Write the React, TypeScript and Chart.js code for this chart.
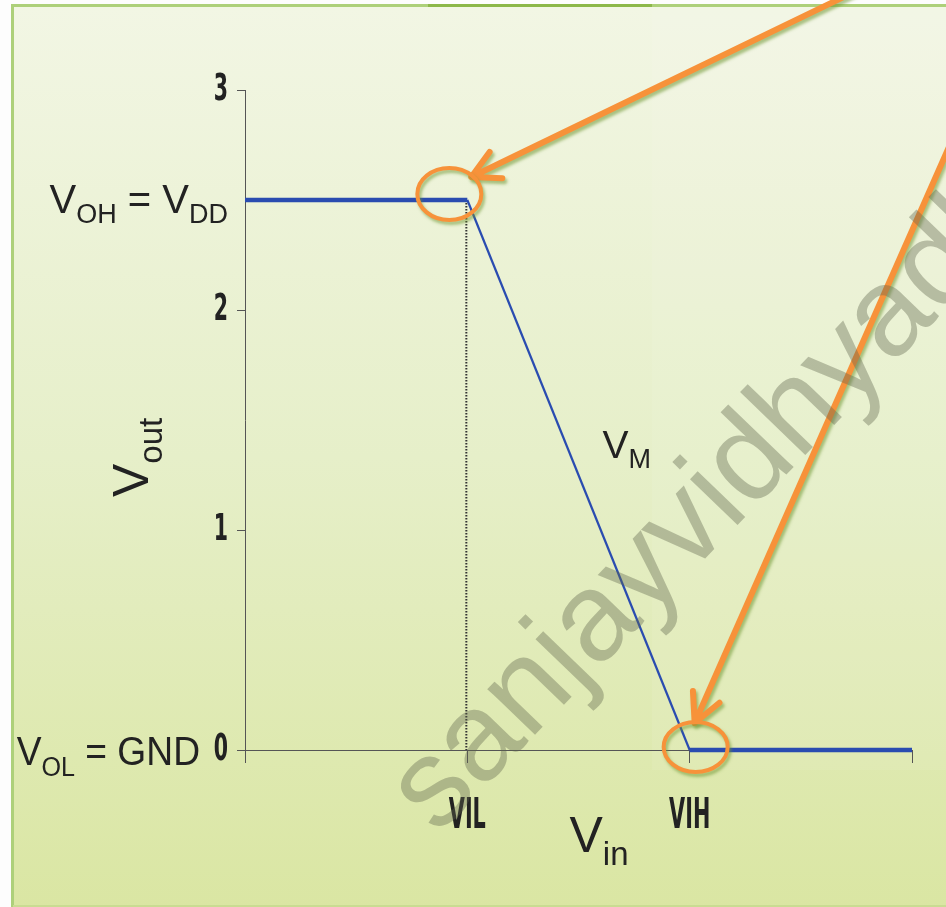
import React, { useEffect, useRef } from 'react';
import { Chart, registerables } from 'chart.js';
import { renderText } from 'chart.js/helpers';

Chart.register(...registerables);

// ---- data ----
const vin = [0, 1, 2, 3];
const vout = [2.5, 2.5, 0, 0];
const xTickValues = [0, 1, 2, 3];
const xTickLabels = ['', 'VIL', 'VIH', ''];
const yTickValues = [0, 1, 2, 3];
const yTickLabels = ['0', '1', '2', '3'];
const VIL = 1;
const VIH = 2;
const VOH = 2.5;
const VOL = 0;
const watermarkText = 'sanjayvidhyadhar';

const W = 946;
const H = 907;
const SANS = '"Liberation Sans", Arial, sans-serif';
const NARROW = '"DejaVu Sans Condensed", "DejaVu Sans", sans-serif';
const ORANGE = '#f7923a';

type Part = { t: string; size: number; dy: number };

function drawParts(
  ctx: CanvasRenderingContext2D,
  parts: Part[],
  x: number,
  y: number,
  align: 'left' | 'right',
  sx = 1,
  rot = 0
) {
  ctx.save();
  let w = 0;
  for (const p of parts) {
    ctx.font = `${p.size}px ${SANS}`;
    w += ctx.measureText(p.t).width;
  }
  ctx.translate(x, y);
  if (rot) ctx.rotate(rot);
  ctx.scale(sx, 1);
  let cx = align === 'right' ? -w : 0;
  ctx.fillStyle = '#222';
  ctx.textBaseline = 'alphabetic';
  ctx.textAlign = 'left';
  for (const p of parts) {
    ctx.font = `${p.size}px ${SANS}`;
    ctx.fillText(p.t, cx, p.dy);
    cx += ctx.measureText(p.t).width;
  }
  ctx.restore();
}

function arrow(ctx: CanvasRenderingContext2D, sx: number, sy: number, tx: number, ty: number, wing: number, ang: number) {
  const a = Math.atan2(sy - ty, sx - tx);
  ctx.beginPath();
  ctx.moveTo(sx, sy);
  ctx.lineTo(tx, ty);
  ctx.moveTo(tx + wing * Math.cos(a - ang), ty + wing * Math.sin(a - ang));
  ctx.lineTo(tx, ty);
  ctx.lineTo(tx + wing * Math.cos(a + ang), ty + wing * Math.sin(a + ang));
  ctx.stroke();
}

// draw the library's own tick label items, horizontally condensed
function condenseLabels(scale: any, sx: number) {
  if (scale.__condensed) return;
  scale.__condensed = true;
  scale.drawLabels = function (chartArea: any) {
    const ctx: CanvasRenderingContext2D = this.ctx;
    const items = this.getLabelItems(chartArea);
    for (const item of items) {
      const [tx, ty] = item.options.translation;
      ctx.save();
      ctx.translate(tx, ty);
      ctx.scale(sx, 1);
      ctx.translate(-tx, -ty);
      renderText(ctx, item.label, 0, item.textOffset, item.font, item.options);
      ctx.restore();
    }
  };
}

const slidePlugin = {
  id: 'slide',
  beforeDraw(chart: any) {
    condenseLabels(chart.scales.x, 0.55);
    condenseLabels(chart.scales.y, 0.6);
    const ctx: CanvasRenderingContext2D = chart.ctx;
    ctx.save();
    ctx.fillStyle = '#fdfdfd';
    ctx.fillRect(0, 0, W, H);
    const g = ctx.createLinearGradient(0, 6, 0, H);
    g.addColorStop(0, '#f2f6e4');
    g.addColorStop(0.5, '#e6efc9');
    g.addColorStop(1, '#dae6a3');
    ctx.fillStyle = g;
    ctx.fillRect(13, 6, W - 13, H - 6);
    // faint lighter panel
    ctx.fillStyle = 'rgba(255,255,255,0.07)';
    ctx.fillRect(652, 7, W - 652, 763);
    // borders
    ctx.fillStyle = '#add07a';
    ctx.fillRect(11, 4, 3, H - 4);
    ctx.fillRect(11, 4, W - 11, 3);
    ctx.fillStyle = '#8db84a';
    ctx.fillRect(428, 4, 224, 3);
    ctx.fillStyle = '#c9dc92';
    ctx.fillRect(13, H - 2, W - 13, 2);
    ctx.restore();
  },
  beforeDatasetsDraw(chart: any) {
    const ctx: CanvasRenderingContext2D = chart.ctx;
    const xs = chart.scales.x;
    const ys = chart.scales.y;
    ctx.save();
    ctx.strokeStyle = '#333';
    ctx.lineWidth = 2;
    ctx.setLineDash([1.5, 1.5]);
    ctx.beginPath();
    ctx.moveTo(xs.getPixelForValue(VIL) - 1, ys.getPixelForValue(VOH));
    ctx.lineTo(xs.getPixelForValue(VIL) - 1, ys.getPixelForValue(VOL));
    ctx.stroke();
    ctx.restore();
  },
  afterDraw(chart: any) {
    const ctx: CanvasRenderingContext2D = chart.ctx;
    const xs = chart.scales.x;
    const ys = chart.scales.y;
    const area = chart.chartArea;
    const pxL = xs.getPixelForValue(VIL);
    const pyH = ys.getPixelForValue(VOH);
    const pxH = xs.getPixelForValue(VIH);
    const pyL = ys.getPixelForValue(VOL);

    // labels
    drawParts(ctx, [
      { t: 'V', size: 40, dy: 0 },
      { t: 'OH', size: 27, dy: 10 },
      { t: ' = V', size: 40, dy: 0 },
      { t: 'DD', size: 27, dy: 10 },
    ], area.left - 17, pyH + 13, 'right');
    drawParts(ctx, [
      { t: 'V', size: 40, dy: 0 },
      { t: 'OL', size: 27, dy: 11 },
      { t: ' = GND', size: 40, dy: 0 },
    ], area.left - 45, pyL + 15, 'right', 0.93);
    drawParts(ctx, [
      { t: 'V', size: 39, dy: 0 },
      { t: 'M', size: 27, dy: 10 },
    ], xs.getPixelForValue(1.5) + 24, ys.getPixelForValue(1.25) - 17, 'left');
    drawParts(ctx, [
      { t: 'V', size: 50, dy: 0 },
      { t: 'in', size: 33, dy: 13 },
    ], xs.getPixelForValue(1.5) - 9, area.bottom + 102, 'left');
    drawParts(ctx, [
      { t: 'V', size: 50, dy: 0 },
      { t: 'out', size: 33, dy: 14 },
    ], area.left - 97, ys.getPixelForValue(1.15), 'left', 1, -Math.PI / 2);

    // orange annotations
    ctx.save();
    ctx.strokeStyle = ORANGE;
    ctx.lineCap = 'round';
    ctx.lineJoin = 'round';
    ctx.shadowColor = 'rgba(110,150,50,0.55)';
    ctx.shadowOffsetX = 2;
    ctx.shadowOffsetY = 3;
    ctx.shadowBlur = 3;
    ctx.lineWidth = 6;
    arrow(ctx, 858, -10, pxL + 4, pyH - 23, 31, 0.49);
    arrow(ctx, 960, 122, pxH + 5, pyL - 27, 32, 0.47);
    ctx.lineWidth = 4;
    ctx.beginPath();
    ctx.ellipse(pxL - 18, pyH - 6, 32, 26, 0, 0, Math.PI * 2);
    ctx.stroke();
    ctx.beginPath();
    ctx.ellipse(pxH + 6, pyL - 3, 32, 25, 0, 0, Math.PI * 2);
    ctx.stroke();
    ctx.restore();

    // watermark
    ctx.save();
    ctx.translate(pxL - 30, pyL + 86);
    ctx.rotate((-46 * Math.PI) / 180);
    ctx.font = `125px ${SANS}`;
    ctx.fillStyle = 'rgba(95,100,75,0.38)';
    ctx.textBaseline = 'alphabetic';
    ctx.fillText(watermarkText, 0, 0);
    ctx.restore();
  },
};

export default function App() {
  const ref = useRef<HTMLCanvasElement>(null);
  useEffect(() => {
    if (!ref.current) return;
    const chart = new Chart(ref.current, {
      type: 'line',
      data: {
        datasets: [
          {
            data: vin.map((x, i) => ({ x, y: vout[i] })),
            borderColor: '#2a4cb0',
            borderWidth: 2,
            pointRadius: 0,
            tension: 0,
            clip: false as any,
            segment: {
              borderWidth: (c: any) => (c.p0.parsed.y === c.p1.parsed.y ? 4.5 : 2.2),
            },
          },
        ],
      },
      options: {
        animation: false,
        responsive: false,
        devicePixelRatio: 1,
        layout: { padding: { top: 90, right: 34, left: 0, bottom: 0 } },
        plugins: { legend: { display: false }, tooltip: { enabled: false } },
        scales: {
          x: {
            type: 'linear',
            min: 0,
            max: 3,
            afterFit: (s: any) => { s.height = 157; },
            afterBuildTicks: (s: any) => { s.ticks = xTickValues.map((v) => ({ value: v })); },
            ticks: {
              callback: (_v: any, i: number) => xTickLabels[i],
              color: '#222',
              padding: 29,
              maxRotation: 0,
              autoSkip: false,
              font: { family: NARROW, size: 42, weight: 'bold' },
            },
            grid: { drawOnChartArea: false, drawTicks: true, tickLength: 13, color: '#555', lineWidth: 1 },
            border: { display: true, color: '#555', width: 1 },
          },
          y: {
            type: 'linear',
            min: 0,
            max: 3,
            afterFit: (s: any) => { s.width = 245; },
            afterBuildTicks: (s: any) => { s.ticks = yTickValues.map((v) => ({ value: v })); },
            ticks: {
              callback: (_v: any, i: number) => yTickLabels[i],
              color: '#222',
              padding: 9,
              autoSkip: false,
              font: { family: NARROW, size: 38, weight: 'bold' },
            },
            grid: { drawOnChartArea: false, drawTicks: true, tickLength: 8, color: '#555', lineWidth: 1 },
            border: { display: true, color: '#555', width: 1 },
          },
        },
      },
      plugins: [slidePlugin],
    });
    return () => chart.destroy();
  }, []);
  return (
    <div style={{ position: 'absolute', left: 0, top: 0, width: W, height: H }}>
      <canvas ref={ref} width={W} height={H} style={{ display: 'block', width: W, height: H }} />
    </div>
  );
}
